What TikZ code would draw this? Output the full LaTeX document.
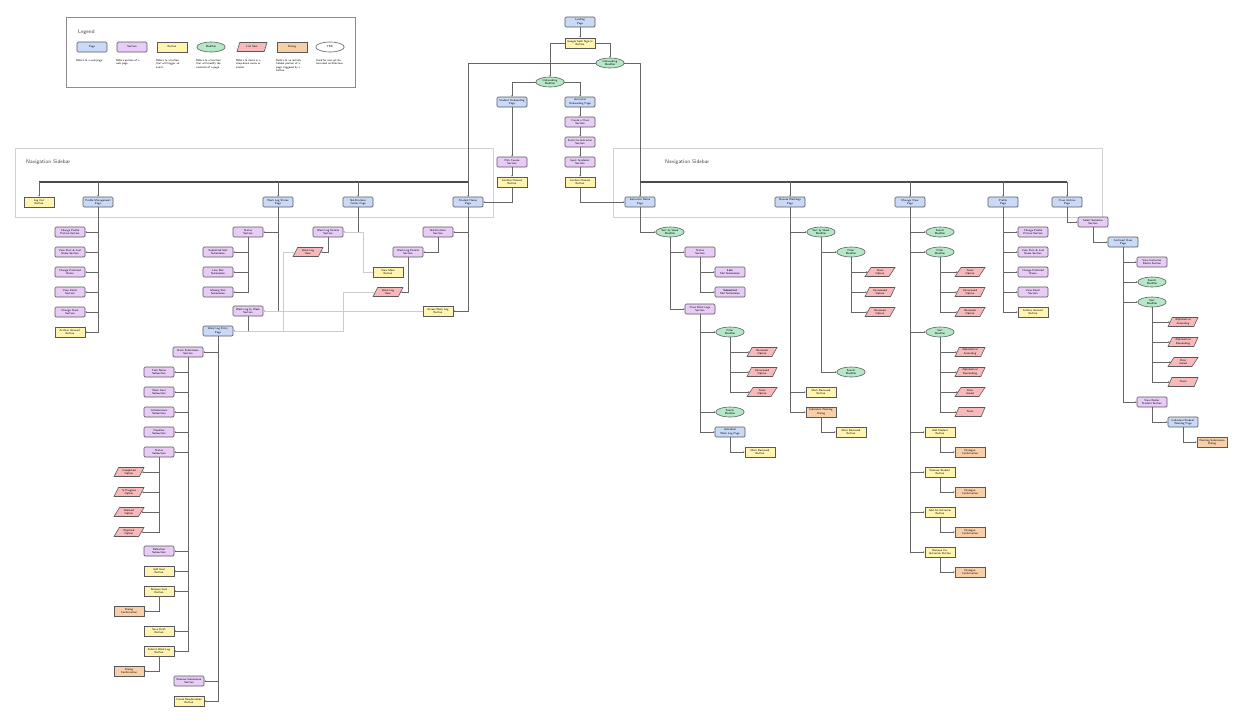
\documentclass[tikz,border=0pt]{standalone}
\usetikzlibrary{positioning,shapes.geometric,arrows.meta}
\definecolor{pagebl}{HTML}{C9DAF8}
\definecolor{sectpu}{HTML}{E8CCF7}
\definecolor{btnye}{HTML}{FFF5B0}
\definecolor{modgr}{HTML}{B4E8C6}
\definecolor{itempk}{HTML}{F7B9B9}
\definecolor{dlgor}{HTML}{F8CFA8}
\newcommand{\tinyfont}{\sffamily\fontsize{2.4pt}{2.9pt}\selectfont}
\newcommand{\headfont}{\sffamily\fontsize{4.5pt}{5pt}\selectfont}

\begin{document}
\begin{tikzpicture}[x=0.03cm, y=-0.03cm,
  box/.style={draw=black!65, line width=0.5pt, minimum width=0.9cm, minimum height=0.3cm, inner sep=0.4pt, align=center, font=\tinyfont},
  page/.style={box, rounded corners=1pt, fill=pagebl},
  sect/.style={box, rounded corners=1pt, fill=sectpu},
  btn/.style={box, fill=btnye},
  dlg/.style={box, fill=dlgor},
  modf/.style={box, ellipse, fill=modgr, minimum width=0.85cm, inner sep=0pt},
  item/.style={box, trapezium, trapezium left angle=65, trapezium right angle=115, trapezium stretches=true, fill=itempk, minimum width=0.9cm, minimum height=0.27cm},
  tbd/.style={box, ellipse, fill=white, minimum width=0.85cm, inner sep=0pt},
  desc/.style={font=\tinyfont, align=left, text width=0.85cm, anchor=north west, inner sep=0pt},
  edge/.style={draw=black!60, line width=0.45pt, -{Stealth[length=1.3pt,width=1.3pt]}},
  faint/.style={draw=black!20, line width=0.45pt},
  bar/.style={draw=black!70, line width=1pt},
  sidebar/.style={draw=black!18, line width=0.4pt}
  ]
  \useasboundingbox[fill=white] (0,0) rectangle (1244,720);

  % legend
  \draw[draw=black!45, line width=0.4pt] (66,17) rectangle (355,87);
  \node[anchor=west, font=\headfont, text=black!75] (lgTitle) at (74,32) {Legend};
  \node[page] (lgPage) at (92,47) {Page};
  \node[sect] (lgSect) at (132,47) {Section};
  \node[btn] (lgBtn) at (172,47) {Button};
  \node[modf] (lgMod) at (211,47) {Modifier};
  \node[item] (lgItem) at (252,47) {List Item};
  \node[dlg] (lgDlg) at (292,47) {Dialog};
  \node[tbd] (lgTbd) at (330,47) {TBD};
  \node[desc] (dPage) at (76,59) {Refers to a web page.};
  \node[desc] (dSect) at (116,59) {Refers portion of a web page.};
  \node[desc] (dBtn) at (156,59) {Refers to a button that will trigger an event.};
  \node[desc] (dMod) at (196,59) {Refers to a function that will modify the contents of a page.};
  \node[desc] (dItem) at (236,59) {Refers to items in a drop-down menu or similar.};
  \node[desc] (dDlg) at (276,59) {Refers to an initially hidden portion of a page triggered by a button.};
  \node[desc] (dTbd) at (316,59) {Used for non-yet determined architecture.};

  % onboarding
  \node[page] (landing) at (580,22) {Landing\\Page};
  \node[btn] (google) at (580,43) {Google Auth Sign-in\\Button};
  \node[modf] (onbR) at (610,63) {Onboarding\\Modifier};
  \node[modf] (onbL) at (550,82) {Onboarding\\Modifier};
  \node[page] (studOnb) at (512,102) {Student Onboarding\\Page};
  \node[page] (instOnb) at (580,102) {Instructor\\Onboarding Page};
  \node[sect] (mkClass) at (580,122) {Create a Class\\Section};
  \node[sect] (invCo) at (580,142) {Invite Co-Instructor\\Section};
  \node[sect] (acad) at (580,162) {Input Academic\\Section};
  \node[btn] (confI) at (580,182) {Confirm Choices\\Button};
  \node[sect] (pickCrs) at (512,162) {Pick Course\\Section};
  \node[btn] (confS) at (512,182) {Confirm Choices\\Button};

  % sidebars
  \draw[sidebar] (15,148) rectangle (493,217);
  \draw[sidebar] (613,148) rectangle (1102,217);
  \node[anchor=west, font=\headfont, text=black!75] (navL) at (22,162) {Navigation Sidebar};
  \node[anchor=west, font=\headfont, text=black!75] (navR) at (661,162) {Navigation Sidebar};
  \coordinate (lbar) at (468,182);
  \coordinate (rbar) at (640,182);

  % student nav
  \node[btn] (logout) at (39,202) {Log Out\\Button};
  \node[page] (profS) at (98,202) {Profile Management\\Page};
  \node[page] (wlStat) at (278,202) {Work Log Status\\Page};
  \node[page] (notifC) at (358,202) {Notifications\\Center Page};
  \node[page] (studHome) at (468,202) {Student Home\\Page};

  % profile (student)
  \node[sect] (pPic) at (70,232) {Change Profile\\Picture Section};
  \node[sect] (pName) at (70,252) {View First \& Last\\Name Section};
  \node[sect] (pPref) at (70,272) {Change Preferred\\Name};
  \node[sect] (pMail) at (70,292) {View Email\\Section};
  \node[sect] (pTeam) at (70,312) {Change Team\\Section};
  \node[btn] (pArch) at (70,332) {Archive Account\\Button};

  % work log status
  \node[sect] (stat) at (248,232) {Status\\Section};
  \node[sect] (sSub) at (218,252) {Submitted Slot\\Submission};
  \node[sect] (sLate) at (218,272) {Late Slot\\Submission};
  \node[sect] (sMiss) at (218,292) {Missing Slot\\Submission};
  \node[sect] (byWeek) at (248,311) {Work Log by Week\\Section};
  \node[page] (wlEntry) at (218,331) {Work Log Entry\\Page};

  % notifications
  \node[sect] (wlDet) at (328,232) {Work Log Details\\Section};
  \node[item] (wlItemA) at (308,252) {Work Log\\Item};
  \node[sect] (notifS) at (438,232) {Notifications\\Section};
  \node[sect] (wlDetB) at (408,252) {Work Log Details\\Section};
  \node[btn] (viewMore) at (388,272) {View More\\Button};
  \node[item] (wlItemB) at (388,292) {Work Log\\Item};
  \node[btn] (access) at (438,311) {Access Work Log\\Button};

  % work log entry
  \node[sect] (basic) at (188,352) {Basic Submission\\Section};
  \node[sect] (task) at (159,372) {Task Name\\Subsection};
  \node[sect] (goal) at (159,392) {Work Goal\\Subsection};
  \node[sect] (collab) at (159,412) {Collaborators\\Subsection};
  \node[sect] (dead) at (159,432) {Deadline\\Subsection};
  \node[sect] (subStat) at (159,452) {Status\\Subsection};
  \node[item] (oDone) at (129,472) {Completed\\Option};
  \node[item] (oProg) at (129,492) {In Progress\\Option};
  \node[item] (oBlock) at (129,512) {Blocked\\Option};
  \node[item] (oRej) at (129,532) {Rejected\\Option};
  \node[sect] (reflect) at (159,551) {Reflection\\Subsection};
  \node[btn] (addGoal) at (159,571) {Add Goal\\Button};
  \node[btn] (remGoal) at (159,591) {Remove Goal\\Button};
  \node[dlg] (dlgGoal) at (129,611) {Dialog\\Confirmation};
  \node[btn] (draft) at (159,631) {Save Draft\\Button};
  \node[btn] (submit) at (159,651) {Submit Work Log\\Button};
  \node[dlg] (dlgSub) at (129,671) {Dialog\\Confirmation};
  \node[sect] (remSub) at (189,681) {Remove Submission\\Section};
  \node[btn] (resub) at (189,701) {Create Resubmission\\Button};

  % instructor nav
  \node[page] (instHome) at (640,202) {Instructor Home\\Page};
  \node[page] (browse) at (790,202) {Browse Worklogs\\Page};
  \node[page] (manage) at (910,202) {Manage Class\\Page};
  \node[page] (profI) at (1003,202) {Profile\\Page};
  \node[page] (archive) at (1067,202) {Class Archive\\Page};

  % instructor home
  \node[modf] (hWeek) at (670,232) {Sort by Week\\Modifier};
  \node[sect] (hStat) at (700,252) {Status\\Section};
  \node[sect] (hLate) at (730,272) {\textbf{Late}\\Slot Submission};
  \node[sect] (hSub) at (730,292) {\textbf{Submitted}\\Slot Submission};
  \node[sect] (hLogs) at (700,309) {Class Work Logs\\Section};
  \node[modf] (hFilt) at (730,332) {Filter\\Modifier};
  \node[item] (hRev) at (762,352) {Reviewed\\Option};
  \node[item] (hUnrev) at (762,372) {Unreviewed\\Option};
  \node[item] (hTeam) at (762,392) {Team\\Option};
  \node[modf] (hSearch) at (730,412) {Search\\Modifier};
  \node[page] (hIndiv) at (730,432) {Individual\\Work Log Page};
  \node[btn] (hMark) at (760,452) {Mark Reviewed\\Button};

  % browse worklogs
  \node[modf] (bWeek) at (821,232) {Sort by Week\\Modifier};
  \node[modf] (bFilt) at (851,252) {Filter\\Modifier};
  \node[item] (bTeam) at (880,272) {Team\\Option};
  \node[item] (bUnrev) at (880,292) {Unreviewed\\Option};
  \node[item] (bRev) at (880,312) {Reviewed\\Option};
  \node[modf] (bSearch) at (851,372) {Search\\Modifier};
  \node[btn] (bMark) at (821,392) {Mark Reviewed\\Button};
  \node[dlg] (bDlg) at (821,412) {Individual Worklog\\Dialog};
  \node[btn] (bMarkD) at (851,432) {Mark Reviewed\\Button};

  % manage class
  \node[modf] (mSearch) at (940,232) {Search\\Modifier};
  \node[modf] (mFilt) at (940,252) {Filter\\Modifier};
  \node[item] (mTeam) at (970,272) {Team\\Option};
  \node[item] (mUnrev) at (970,292) {Unreviewed\\Option};
  \node[item] (mRev) at (970,312) {Reviewed\\Option};
  \node[modf] (mSort) at (940,332) {Sort\\Modifier};
  \node[item] (mAsc) at (970,352) {Alphabetical\\Ascending};
  \node[item] (mDesc) at (970,372) {Alphabetical\\Descending};
  \node[item] (mDate) at (970,392) {Date\\Joined};
  \node[item] (mTm) at (970,412) {Team};
  \node[btn] (mAdd) at (940,432) {Add Student\\Button};
  \node[dlg] (mAddD) at (970,452) {Dialogue\\Confirmation};
  \node[btn] (mRem) at (940,472) {Remove Student\\Button};
  \node[dlg] (mRemD) at (970,492) {Dialogue\\Confirmation};
  \node[btn] (mAddCo) at (940,512) {Add Co-Instructor\\Button};
  \node[dlg] (mAddCoD) at (970,532) {Dialogue\\Confirmation};
  \node[btn] (mRemCo) at (940,552) {Remove Co-\\Instructor Button};
  \node[dlg] (mRemCoD) at (970,572) {Dialogue\\Confirmation};

  % profile (instructor)
  \node[sect] (iPic) at (1033,232) {Change Profile\\Picture Section};
  \node[sect] (iName) at (1033,252) {View First \& Last\\Name Section};
  \node[sect] (iPref) at (1033,272) {Change Preferred\\Name};
  \node[sect] (iMail) at (1033,292) {View Email\\Section};
  \node[btn] (iArch) at (1033,312) {Archive Account\\Button};

  % class archive
  \node[sect] (sem) at (1093,222) {Select Semester\\Section};
  \node[page] (archCls) at (1123,242) {Archived Class\\Page};
  \node[sect] (aRoster) at (1152,262) {View Instructor\\Roster Section};
  \node[modf] (aSearch) at (1152,282) {Search\\Modifier};
  \node[modf] (aSort) at (1152,302) {Sort\\Modifier};
  \node[item] (aAsc) at (1183,322) {Alphabetical\\Ascending};
  \node[item] (aDesc) at (1183,342) {Alphabetical\\Descending};
  \node[item] (aDate) at (1183,362) {Date\\Joined};
  \node[item] (aTm) at (1183,382) {Team};
  \node[sect] (aStud) at (1152,402) {View Roster\\Student Section};
  \node[page] (aIndiv) at (1183,422) {Individual Student\\Worklog Page};
  \node[dlg] (aDlg) at (1212,442) {Worklog Submission\\Dialog};

  % connectors
  \draw[edge] (landing) -- (google);
  \draw[edge] (google.west) -| (onbL);
  \draw[edge] (google.east) -| (onbR);
  \draw[edge] (onbL.west) -| (studOnb);
  \draw[edge] (onbL.east) -| (instOnb);
  \draw[edge] (studOnb) -- (pickCrs);
  \draw[edge] (pickCrs) -- (confS);
  \draw[edge] (instOnb) -- (mkClass);
  \draw[edge] (mkClass) -- (invCo);
  \draw[edge] (invCo) -- (acad);
  \draw[edge] (acad) -- (confI);
  \draw[edge] (confS) |- (studHome.east);
  \draw[edge] (confI) |- (instHome.west);
  \draw[black!60, line width=0.45pt] (onbR.west) -| (lbar);
  \draw[edge] (onbR.east) -| (instHome);
  \draw[bar] (logout |- lbar) -- (lbar);
  \draw[bar] (rbar) -- (archive |- rbar);
  \foreach \n in {logout,profS,wlStat,notifC,studHome}
    \draw[edge] (\n |- lbar) -- (\n);
  \foreach \n in {browse,manage,profI,archive}
    \draw[edge] (\n |- rbar) -- (\n);

  \foreach \c in {pPic,pName,pPref,pMail,pTeam,pArch}
    \draw[edge] (profS) |- (\c.east);
  \foreach \c in {stat,byWeek}
    \draw[edge] (wlStat) |- (\c.east);
  \foreach \c in {sSub,sLate,sMiss}
    \draw[edge] (stat) |- (\c.east);
  \draw[edge] (byWeek) |- (wlEntry.east);
  \draw[edge] (notifC) |- (wlDet.east);
  \draw[edge] (wlDet) |- (wlItemA.east);
  \foreach \c in {notifS,access}
    \draw[edge] (studHome) |- (\c.east);
  \draw[edge] (notifS) |- (wlDetB.east);
  \draw[edge] (wlDetB) |- (wlItemB.east);
  \draw[faint] (wlDet.east) -- (363,232) |- (viewMore.west);
  \draw[faint] (wlItemA.west) -| (283,331);
  \draw[faint] (wlItemB.west) -| (343,331) -- (wlEntry.east);
  \draw[faint] (access.west) -- (byWeek.east);

  \foreach \c in {basic,remSub,resub}
    \draw[edge] (wlEntry) |- (\c.east);
  \foreach \c in {task,goal,collab,dead,subStat,reflect,addGoal,remGoal,draft,submit}
    \draw[edge] (basic) |- (\c.east);
  \foreach \c in {oDone,oProg,oBlock,oRej}
    \draw[edge] (subStat) |- (\c.east);
  \draw[edge] (remGoal) |- (dlgGoal.east);
  \draw[edge] (submit) |- (dlgSub.east);

  \draw[edge] (instHome) |- (hWeek.west);
  \foreach \c in {hStat,hLogs}
    \draw[edge] (hWeek) |- (\c.west);
  \foreach \c in {hLate,hSub}
    \draw[edge] (hStat) |- (\c.west);
  \foreach \c in {hFilt,hSearch,hIndiv}
    \draw[edge] (hLogs) |- (\c.west);
  \foreach \c in {hRev,hUnrev,hTeam}
    \draw[edge] (hFilt) |- (\c.west);
  \draw[edge] (hIndiv) |- (hMark.west);

  \foreach \c in {bWeek,bMark,bDlg}
    \draw[edge] (browse) |- (\c.west);
  \foreach \c in {bFilt,bSearch}
    \draw[edge] (bWeek) |- (\c.west);
  \foreach \c in {bTeam,bUnrev,bRev}
    \draw[edge] (bFilt) |- (\c.west);
  \draw[edge] (bDlg) |- (bMarkD.west);

  \foreach \c in {mSearch,mFilt,mSort,mAdd,mRem,mAddCo,mRemCo}
    \draw[edge] (manage) |- (\c.west);
  \foreach \c in {mTeam,mUnrev,mRev}
    \draw[edge] (mFilt) |- (\c.west);
  \foreach \c in {mAsc,mDesc,mDate,mTm}
    \draw[edge] (mSort) |- (\c.west);
  \draw[edge] (mAdd) |- (mAddD.west);
  \draw[edge] (mRem) |- (mRemD.west);
  \draw[edge] (mAddCo) |- (mAddCoD.west);
  \draw[edge] (mRemCo) |- (mRemCoD.west);

  \foreach \c in {iPic,iName,iPref,iMail,iArch}
    \draw[edge] (profI) |- (\c.west);
  \draw[edge] (archive) |- (sem.west);
  \draw[edge] (sem) |- (archCls.west);
  \foreach \c in {aRoster,aSearch,aSort,aStud}
    \draw[edge] (archCls) |- (\c.west);
  \foreach \c in {aAsc,aDesc,aDate,aTm}
    \draw[edge] (aSort) |- (\c.west);
  \draw[edge] (aStud) |- (aIndiv.west);
  \draw[edge] (aIndiv) |- (aDlg.west);
\end{tikzpicture}
\end{document}
